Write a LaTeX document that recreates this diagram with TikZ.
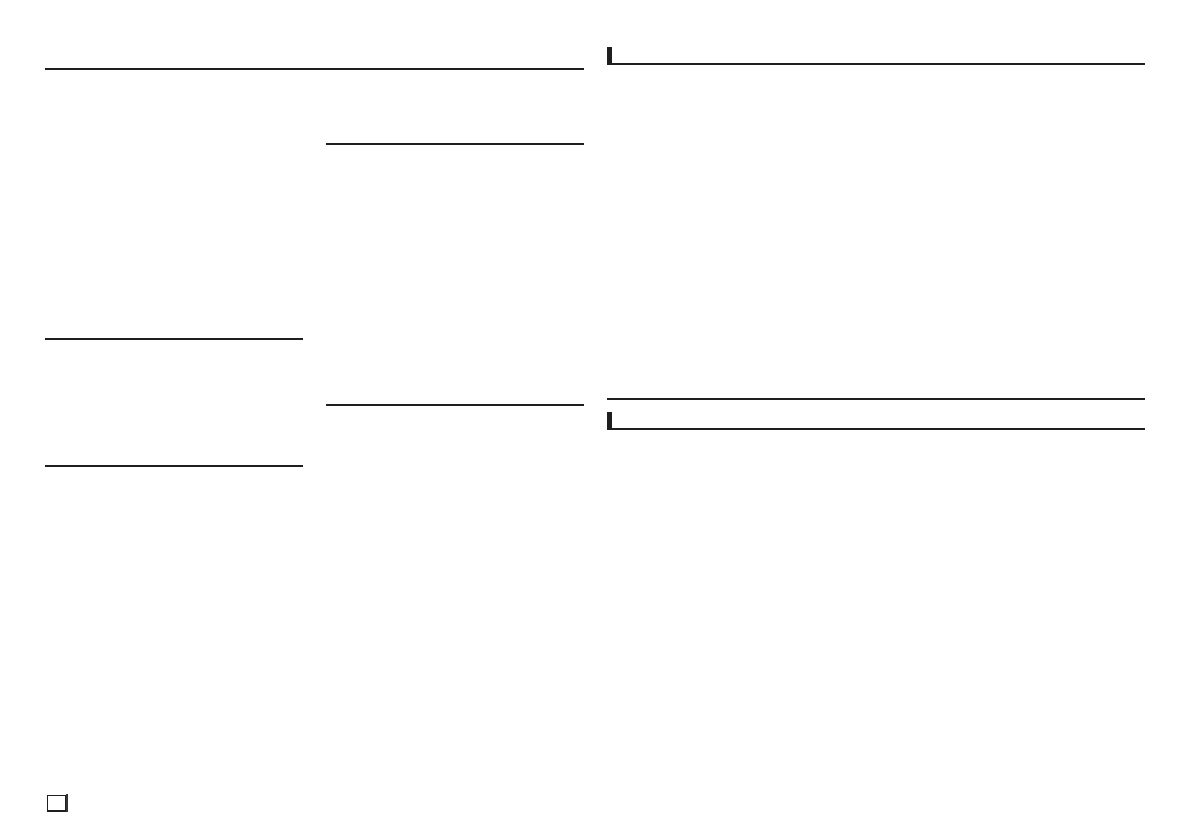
\documentclass[tikz,border=0pt]{standalone}
\begin{document}
\begin{tikzpicture}[x=1pt,y=-1pt,
  rule/.style={line width=2pt,draw=black!88},
  headbar/.style={fill=black!88}]
\useasboundingbox (0,0) rectangle (1192,840);
% left page column rules
\draw[rule] (45,69.3) -- (584,69.3);
\draw[rule] (326,144.3) -- (584,144.3);
\draw[rule] (45,339.3) -- (302.7,339.3);
\draw[rule] (45,465.8) -- (302.7,465.8);
\draw[rule] (326,405.3) -- (584,405.3);
% right page sections
\fill[headbar] (607,47.3) rectangle (612.3,65.3);
\draw[rule] (607,64.3) -- (1145,64.3);
\draw[rule] (607,399.3) -- (1145,399.3);
\fill[headbar] (607,412) rectangle (612.3,429.8);
\draw[rule] (607,428.8) -- (1145,428.8);
% page number box
\node[draw=black!88,line width=1.6pt,minimum width=18pt,minimum height=15.5pt,inner sep=0pt,anchor=north west] (pg) at (46.5,794.5) {};
\fill[black!80] ([yshift=0.8pt]pg.north east) rectangle ([xshift=2.2pt,yshift=-0.8pt]pg.south east);
\end{tikzpicture}
\end{document}
